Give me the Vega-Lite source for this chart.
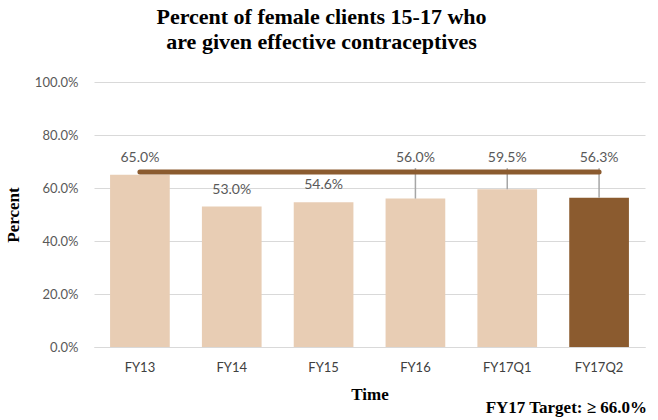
{
  "$schema": "https://vega.github.io/schema/vega-lite/v6.json",
  "width": 551,
  "height": 265,
  "autosize": {"type": "none"},
  "padding": {"left": 94, "top": 82, "right": 13, "bottom": 73},
  "background": "white",
  "title": {
    "text": ["Percent of female clients 15-17 who", "are given effective contraceptives"],
    "font": "Liberation Serif",
    "fontSize": 22,
    "fontWeight": "bold",
    "color": "#000000",
    "anchor": "middle",
    "dx": -48,
    "offset": 22,
    "lineHeight": 25
  },
  "config": {
    "view": {"stroke": null},
    "axis": {"labelFont": "Lato", "labelColor": "#595959", "labelFontSize": 13, "titleFont": "Liberation Serif", "titleFontWeight": "bold", "titleFontSize": 17, "titleColor": "#000000"}
  },
  "data": {
    "values": [
      {"period": "FY13", "pct": 0.650, "current": "no"},
      {"period": "FY14", "pct": 0.530, "current": "no"},
      {"period": "FY15", "pct": 0.546, "current": "no"},
      {"period": "FY16", "pct": 0.560, "current": "no"},
      {"period": "FY17Q1", "pct": 0.595, "current": "no"},
      {"period": "FY17Q2", "pct": 0.563, "current": "yes"}
    ]
  },
  "layer": [
    {
      "mark": {"type": "bar"},
      "encoding": {
        "x": {
          "field": "period",
          "type": "nominal",
          "sort": null,
          "scale": {"paddingInner": 0.35, "paddingOuter": 0.175},
          "axis": {"title": "Time", "labelAngle": 0, "ticks": false, "labelPadding": 14, "labelColor": "#404040", "domainColor": "#D9D9D9", "titlePadding": 12}
        },
        "y": {
          "field": "pct",
          "type": "quantitative",
          "scale": {"domain": [0, 1]},
          "axis": {"title": "Percent", "format": ".1%", "values": [0, 0.2, 0.4, 0.6, 0.8, 1.0], "ticks": false, "domain": false, "labelPadding": 16, "gridColor": "#D9D9D9", "titlePadding": 12}
        },
        "color": {
          "field": "current",
          "type": "nominal",
          "scale": {"domain": ["no", "yes"], "range": ["#E8CDB4", "#8B5B2F"]},
          "legend": null
        }
      }
    },
    {
      "transform": [{"filter": "indexof(['FY16','FY17Q1','FY17Q2'], datum.period) >= 0"}],
      "mark": {"type": "rule", "color": "#A6A6A6", "strokeWidth": 1.5},
      "encoding": {
        "x": {"field": "period", "type": "nominal", "sort": null},
        "y": {"field": "pct", "type": "quantitative"},
        "y2": {"datum": 0.675}
      }
    },
    {
      "data": {"values": [{"from": "FY13", "to": "FY17Q2", "target": 0.66}]},
      "mark": {"type": "rule", "color": "#8B5B2F", "strokeWidth": 5, "strokeCap": "round"},
      "encoding": {
        "x": {"field": "from", "type": "nominal", "sort": null},
        "x2": {"field": "to"},
        "y": {"field": "target", "type": "quantitative"}
      }
    },
    {
      "transform": [{"filter": "indexof(['FY16','FY17Q1','FY17Q2'], datum.period) < 0"}],
      "mark": {"type": "text", "font": "Lato", "fontSize": 14, "color": "#595959", "dy": -17, "baseline": "middle"},
      "encoding": {
        "x": {"field": "period", "type": "nominal", "sort": null},
        "y": {"field": "pct", "type": "quantitative"},
        "text": {"field": "pct", "type": "quantitative", "format": ".1%"}
      }
    },
    {
      "transform": [{"filter": "indexof(['FY16','FY17Q1','FY17Q2'], datum.period) >= 0"}],
      "mark": {"type": "text", "font": "Lato", "fontSize": 14, "color": "#595959", "baseline": "middle"},
      "encoding": {
        "x": {"field": "period", "type": "nominal", "sort": null},
        "y": {"datum": 0.715, "type": "quantitative"},
        "text": {"field": "pct", "type": "quantitative", "format": ".1%"}
      }
    },
    {
      "data": {"values": [{"anchor": "FY17Q2", "note": "FY17 Target: ≥ 66.0%", "where": -0.23}]},
      "mark": {"type": "text", "font": "Liberation Serif", "fontSize": 17, "fontWeight": "bold", "color": "#000000", "align": "right", "baseline": "middle", "dx": 48},
      "encoding": {
        "x": {"field": "anchor", "type": "nominal", "sort": null},
        "y": {"field": "where", "type": "quantitative"},
        "text": {"field": "note"}
      }
    }
  ]
}
